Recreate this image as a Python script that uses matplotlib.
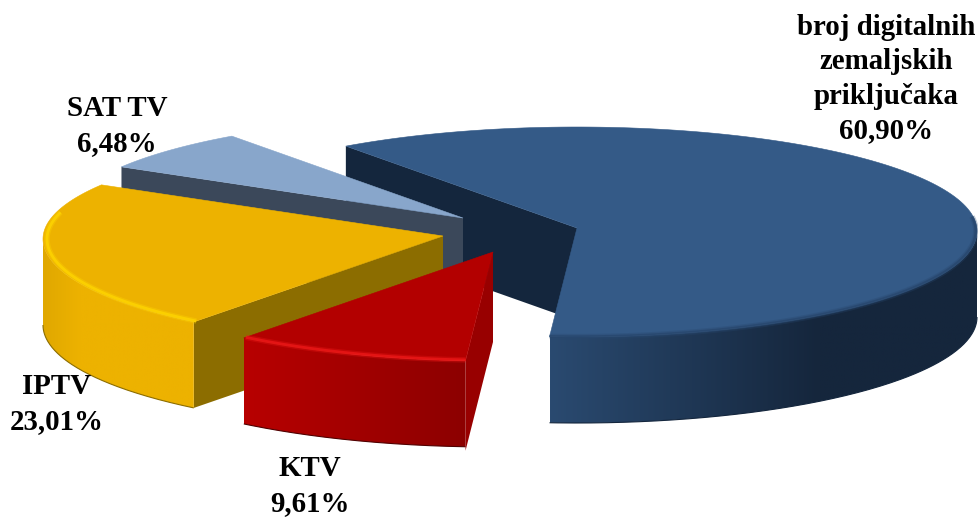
#!/usr/bin/env python3
"""Exploded 3D-look pie of digital TV connections, drawn with plain patches."""

import matplotlib

matplotlib.use("Agg")

import matplotlib.pyplot as plt
import numpy as np
from matplotlib.colors import LinearSegmentedColormap
from matplotlib.path import Path
from matplotlib.patches import Polygon

# data, in drawing order (clockwise from the first cut)
names = ["broj digitalnih\nzemaljskih\npriključaka", "KTV", "IPTV", "SAT TV"]
shares = [60.90, 9.61, 23.01, 6.48]
share_labels = ["60,90%", "9,61%", "23,01%", "6,48%"]

# pie look
START_ANGLE = 125.3
RX = 400
RY_UP = 104
RY_DOWN = 106
RIM_DROP = 3
WALL = 86

apex = [(577, 228), (493, 252), (443, 236), (463, 218)]
cut_depth = [93, 90, 86, 88]
top_colors = ["#345a87", "#b30000", "#edb200", "#88a6cb"]
cut_colors = ["#14263d", "#980000", "#8c6d00", "#3b485a"]
rim_colors = ["#27466c", "#f01a1a", "#ffd800", "#88a6cb"]
wall_stops = [
    [(0, "#2a4a70"), (0.63, "#15263c"), (1, "#15263c")],
    [(0, "#b80000"), (1, "#8c0000")],
    [(0, "#e0a800"), (0.25, "#edb200"), (1, "#edb200")],
    None,
]
edge_colors = ["#14263d", "#500000", "#8c6d00", None]
rim_scale = [0.997, 0.992, 0.99, 1.0]
label_pos = [(886, 79), (310, 486), (57, 404), (117, 126)]

fig = plt.figure(figsize=(9.79, 5.17), dpi=100)
ax = fig.add_axes([0, 0, 1, 1])
plt.rcParams["font.family"] = ["Liberation Serif", "DejaVu Serif"]


def rim_points(center, t_from, t_to, scale=1.0, n=160):
    t = np.radians(np.linspace(t_from, t_to, n))
    sin_t = np.sin(t)
    ry = np.where(sin_t > 0, RY_UP, RY_DOWN)
    x = center[0] + scale * RX * np.cos(t)
    y = center[1] + RIM_DROP - scale * ry * sin_t
    return x, y


bounds = START_ANGLE - np.cumsum([0] + shares) * 3.6
z = 1

for i in [0, 3, 2, 1]:
    a0, a1 = bounds[i], bounds[i + 1]
    c = apex[i]

    # flat wall along the cut that faces the viewer
    ex, ey = rim_points(c, a0, a0, n=1)
    d = cut_depth[i]
    cut_pts = [c, (ex[0], ey[0]), (ex[0], ey[0] + d), (c[0], c[1] + d)]
    ax.add_patch(Polygon(cut_pts, fc=cut_colors[i], ec="none", zorder=z))
    z += 1

    # round outer wall, front half only
    w0 = min(a0, 0) if a0 > -180 else a0
    w1 = max(a1, -180)
    if wall_stops[i] is not None and w0 > w1:
        x, y = rim_points(c, w0, w1)
        verts = np.vstack([np.c_[x, y], np.c_[x[::-1], y[::-1] + WALL]])
        path = Path(np.vstack([verts, verts[:1]]), closed=True)
        cmap = LinearSegmentedColormap.from_list("wall", wall_stops[i])
        grad = np.linspace(0, 1, 256).reshape(1, -1)
        im = ax.imshow(
            grad,
            cmap=cmap,
            aspect="auto",
            extent=(x.min(), x.max(), y.max() + WALL, y.min()),
            zorder=z,
        )
        im.set_clip_path(path, transform=ax.transData)
        ax.plot(x, y + WALL, color=edge_colors[i], lw=0.8, zorder=z, solid_capstyle="butt")
        z += 1

    # top face
    x, y = rim_points(c, a0, a1)
    top = np.vstack([[c], np.c_[x, y]])
    ax.add_patch(Polygon(top, fc=top_colors[i], ec=top_colors[i], lw=0.4, zorder=z))
    z += 1

    # soft bevel next to the rim
    if wall_stops[i] is not None:
        bevel_end = -195 if i == 2 else w1
        x, y = rim_points(c, 8 if i == 0 else w0, bevel_end, scale=rim_scale[i])
        ax.plot(x, y, color=rim_colors[i], lw=4.0, alpha=0.3, zorder=z, solid_capstyle="butt")
        ax.plot(x, y, color=rim_colors[i], lw=2.0, alpha=0.7, zorder=z, solid_capstyle="butt")
        z += 1

for name, value, pos in zip(names, share_labels, label_pos):
    ax.text(
        pos[0],
        pos[1],
        f"{name}\n{value}",
        ha="center",
        va="center",
        fontsize=20.8,
        fontweight="bold",
        color="black",
        linespacing=1.36,
        zorder=z,
    )

ax.set_xlim(0, 979)
ax.set_ylim(517, 0)
ax.axis("off")
fig.savefig("out.png", dpi=100)
